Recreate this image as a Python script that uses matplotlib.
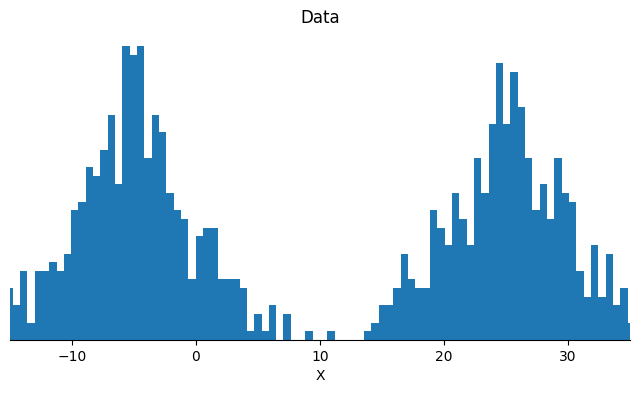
import numpy as np
from matplotlib import pyplot as plt

# histogram counts, one per bin, left to right
counts = [6, 4, 8, 2, 8, 8, 9, 8, 10, 15, 16, 20, 19, 22, 26, 18,
          34, 33, 34, 21, 26, 24, 17, 15, 14, 7,
          12, 13, 13, 7, 7, 7, 6, 1, 3, 1, 4, 0, 3, 0, 0, 1, 0, 0, 1,
          0, 0, 0, 0, 1, 2, 4, 4, 6, 10, 7, 6, 6, 15, 13, 11, 17, 14, 11,
          21, 17, 25, 32, 25, 31, 27, 21, 15, 18, 14, 21, 17, 16, 8, 5,
          11, 5, 10, 4, 6, 2]
bin_width = 0.5905
first_edge = -0.03 - 26 * bin_width

edges = first_edge + bin_width * np.arange(len(counts) + 1)
centers = edges[:-1] + bin_width / 2

fig = plt.figure(figsize=(6.4, 3.93), dpi=100)
ax = fig.add_subplot(111)
ax.hist(centers, bins=edges, weights=counts, color='#1f77b4')

ax.set_xlim(-15, 35)
ax.set_title('Data')
ax.set_xlabel('X')
ax.set_yticks([])
for side in ['left', 'top', 'right']:
    ax.spines[side].set_visible(False)

plt.subplots_adjust(left=10/640, right=630/640, bottom=53/393, top=1 - 31.3/393)
plt.savefig('out.png')
